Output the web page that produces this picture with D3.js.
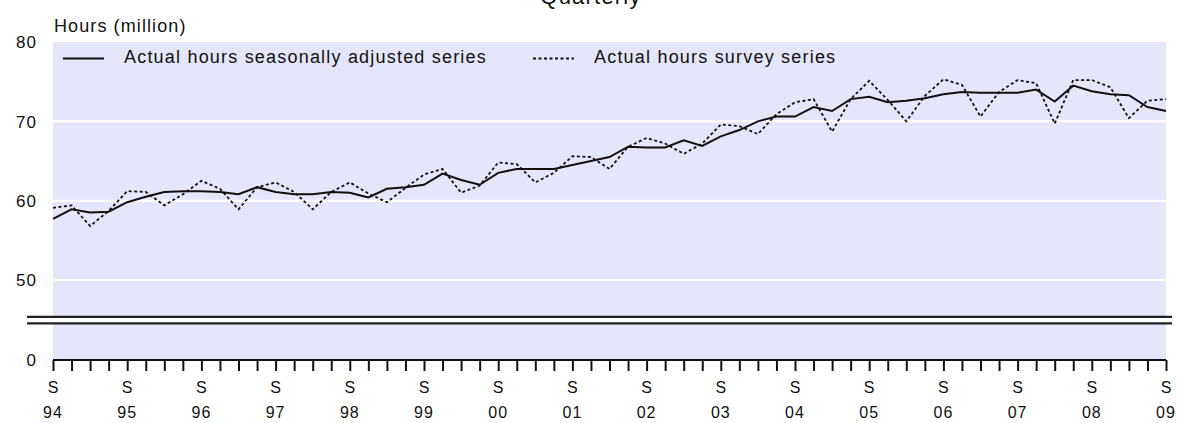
<!DOCTYPE html>
<html lang="en">
<head>
  <meta charset="UTF-8">
  <title>Actual hours worked - Quarterly</title>
  <script src="https://d3js.org/d3.v7.min.js"></script>
  <style>
    body {
      margin: 0;
      padding: 0;
      background: #fff;
      font-family: "Liberation Sans", Arial, sans-serif;
    }
    text {
      fill: #111;
    }
  </style>
</head>
<body>
  <div id="chart"></div>

  <script>
    // quarterly series, Sep 1994 .. Sep 2009
    const yearLabels = ["94", "95", "96", "97", "98", "99", "00", "01",
                        "02", "03", "04", "05", "06", "07", "08", "09"];
    const quarterMonths = ["Sep", "Dec", "Mar", "Jun"];

    const seasAdj = [
      57.7, 58.9, 58.5, 58.6, 59.8, 60.5, 61.1, 61.2, 61.2, 61.1,
      60.8, 61.7, 61.1, 60.8, 60.8, 61.1, 61.0, 60.4, 61.5, 61.7,
      62.0, 63.4, 62.6, 62.0, 63.5, 64.0, 64.0, 64.0, 64.5, 65.0,
      65.5, 66.8, 66.7, 66.7, 67.6, 66.9, 68.1, 68.9, 70.0, 70.6,
      70.6, 71.8, 71.3, 72.8, 73.1, 72.4, 72.6, 72.9, 73.4, 73.7,
      73.6, 73.6, 73.6, 74.0, 72.5, 74.5, 73.8, 73.4, 73.3, 71.8,
      71.3
    ];
    const survey = [
      59.1, 59.4, 56.8, 58.7, 61.2, 61.1, 59.4, 60.8, 62.5, 61.5,
      58.9, 61.7, 62.3, 61.1, 58.9, 61.1, 62.3, 60.9, 59.8, 61.6,
      63.3, 64.0, 61.0, 61.9, 64.8, 64.6, 62.3, 63.5, 65.6, 65.5,
      64.0, 66.8, 67.9, 67.2, 65.9, 67.2, 69.6, 69.4, 68.4, 70.9,
      72.4, 72.8, 68.7, 72.8, 75.1, 72.7, 70.0, 73.2, 75.3, 74.6,
      70.6, 73.7, 75.2, 74.8, 69.7, 75.2, 75.2, 74.3, 70.4, 72.6,
      72.8
    ];
    const yTicks = [0, 50, 60, 70, 80];
    const gridTicks = [50, 60, 70];

    // quarter keys: "Sep 94", "Dec 94", "Mar 95", ...
    const quarters = [];
    yearLabels.forEach((yr, yi) => {
      quarterMonths.forEach((m, qi) => {
        const label = qi < 2 ? yr : yearLabels[yi + 1];
        if (label !== undefined) quarters.push(m + " " + label);
      });
    });
    quarters.length = seasAdj.length;

    const width = 1178, height = 423;
    const margin = { top: 42, right: 12, bottom: 63, left: 53 };

    const svg = d3.select("#chart")
      .append("svg")
      .attr("width", width)
      .attr("height", height);

    const x = d3.scalePoint()
      .domain(quarters)
      .range([margin.left, width - margin.right]);

    // broken value axis: 0 sits at the bottom, 44.5..80 fills the rest
    const y = d3.scaleLinear()
      .domain([0, 44.5, 80])
      .range([height - margin.bottom, 323.6, margin.top]);

    // title (cut by the top edge, as in the source)
    svg.append("text")
      .attr("x", 591)
      .attr("y", 4)
      .attr("text-anchor", "middle")
      .style("font-size", "22px")
      .style("letter-spacing", "1.2px")
      .text("Quarterly");

    svg.append("text")
      .attr("x", margin.left + 1)
      .attr("y", 32)
      .style("font-size", "18px")
      .style("letter-spacing", "1.1px")
      .text("Hours (million)");

    // plot background
    svg.append("rect")
      .attr("x", x.range()[0])
      .attr("y", y(80))
      .attr("width", x.range()[1] - x.range()[0])
      .attr("height", y(0) - y(80))
      .attr("fill", "#e6e6fa");

    svg.append("g")
      .selectAll("line")
      .data(gridTicks)
      .join("line")
      .attr("x1", x.range()[0])
      .attr("x2", x.range()[1])
      .attr("y1", d => y(d))
      .attr("y2", d => y(d))
      .attr("stroke", "#fff")
      .attr("stroke-width", 2);

    // axis break
    const breakTop = y(45.35);
    const brk = svg.append("g");
    brk.append("rect")
      .attr("x", 27)
      .attr("y", breakTop)
      .attr("width", width - 6 - 27)
      .attr("height", 6.5)
      .attr("fill", "#fff");
    [breakTop, breakTop + 6.5].forEach(v => {
      brk.append("line")
        .attr("x1", 27)
        .attr("x2", width - 6)
        .attr("y1", v)
        .attr("y2", v)
        .attr("stroke", "#222")
        .attr("stroke-width", 2.2);
    });

    // y axis labels
    const yAxis = svg.append("g")
      .attr("transform", `translate(${margin.left - 16},0)`)
      .call(d3.axisLeft(y).tickValues(yTicks).tickSize(0).tickPadding(0));
    yAxis.select(".domain").remove();
    yAxis.selectAll("text")
      .attr("dy", "0.34em")
      .style("font-family", "'Liberation Sans', Arial, sans-serif")
      .style("font-size", "17px")
      .style("letter-spacing", "1px")
      .style("fill", "#111");

    // x axis
    const xAxis = svg.append("g")
      .attr("transform", `translate(0,${y(0)})`)
      .call(d3.axisBottom(x).tickSize(11).tickFormat(""));
    xAxis.select(".domain")
      .attr("stroke", "#111")
      .attr("stroke-width", 2)
      .attr("d", `M${x.range()[0]},0H${x.range()[1]}`);
    xAxis.selectAll(".tick line")
      .attr("stroke", "#111")
      .attr("stroke-width", 2);

    const sepQuarters = quarters.filter(q => q.startsWith("Sep"));
    const labels = svg.append("g")
      .attr("text-anchor", "middle");
    labels.selectAll(".qlab")
      .data(sepQuarters)
      .join("text")
      .attr("class", "qlab")
      .attr("x", d => x(d))
      .attr("y", 393)
      .style("font-size", "16px")
      .text("S");
    labels.selectAll(".ylab")
      .data(sepQuarters)
      .join("text")
      .attr("class", "ylab")
      .attr("x", d => x(d))
      .attr("y", 418)
      .style("font-size", "16px")
      .style("letter-spacing", "1px")
      .text(d => d.split(" ")[1]);

    // series
    const line = values => d3.line()
      .x((d, i) => x(quarters[i]))
      .y(d => y(d))(values);

    svg.append("path")
      .attr("d", line(survey))
      .attr("fill", "none")
      .attr("stroke", "#111")
      .attr("stroke-width", 1.8)
      .attr("stroke-dasharray", "3,2.5");

    svg.append("path")
      .attr("d", line(seasAdj))
      .attr("fill", "none")
      .attr("stroke", "#111")
      .attr("stroke-width", 2);

    // legend
    const legend = svg.append("g");
    const legendItems = [
      { label: "Actual hours seasonally adjusted series", x: 63, dash: null },
      { label: "Actual hours survey series", x: 533, dash: "3,2.5" }
    ];
    legendItems.forEach(item => {
      legend.append("line")
        .attr("x1", item.x)
        .attr("x2", item.x + 41)
        .attr("y1", 58.5)
        .attr("y2", 58.5)
        .attr("stroke", "#111")
        .attr("stroke-width", item.dash ? 1.8 : 2)
        .attr("stroke-dasharray", item.dash);
      legend.append("text")
        .attr("x", item.x + 61)
        .attr("y", 63)
        .style("font-size", "18px")
        .style("letter-spacing", "1.2px")
        .text(item.label);
    });
  </script>
</body>
</html>
